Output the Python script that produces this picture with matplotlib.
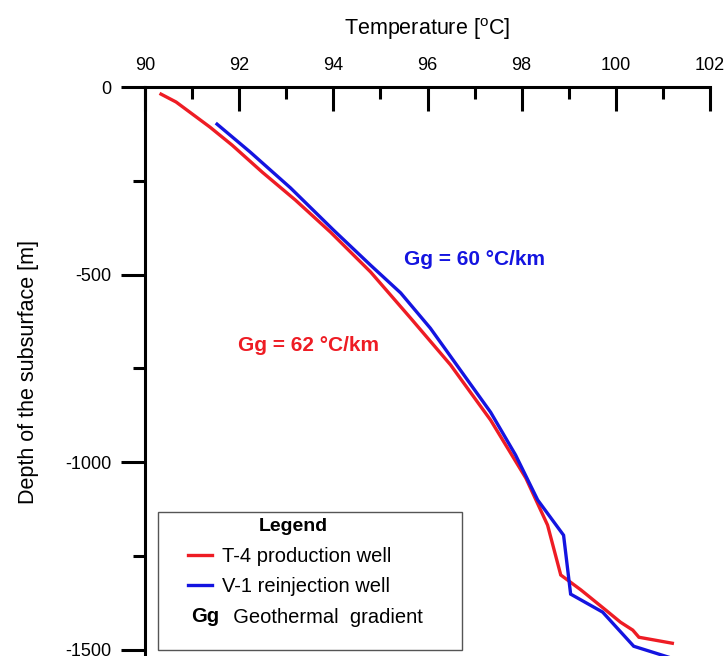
import matplotlib
matplotlib.use("Agg")
import matplotlib.pyplot as plt
from matplotlib.legend_handler import HandlerBase
from matplotlib.lines import Line2D
from matplotlib.patches import Rectangle
from matplotlib.text import Text
from matplotlib.ticker import MultipleLocator

# T-4 production well (temperature in degC, depth in m)
t4_temp = [90.34, 90.66, 91.38, 91.85, 92.49, 93.19, 93.94, 94.79, 95.64, 96.49,
           97.34, 98.09, 98.55, 98.83, 99.26, 99.79, 100.10, 100.36, 100.49, 101.20]
t4_depth = [-19, -40, -107, -155, -227, -301, -387, -493, -616, -741,
            -888, -1043, -1168, -1301, -1341, -1395, -1427, -1448, -1467, -1483]

# V-1 reinjection well
v1_temp = [91.53, 92.23, 93.09, 94.00, 94.79, 95.43, 96.06, 96.70, 97.34, 97.87,
           98.34, 98.89, 99.04, 99.72, 100.38, 101.32]
v1_depth = [-99, -173, -269, -381, -475, -549, -643, -755, -867, -981,
            -1101, -1195, -1352, -1400, -1491, -1528]

x_ticks = [90, 92, 94, 96, 98, 100, 102]
y_ticks = [0, -500, -1000, -1500]

RED = "#ee1c24"
BLUE = "#1414e0"

plt.rcParams["font.family"] = ["Liberation Sans", "DejaVu Sans"]
plt.rcParams["axes.unicode_minus"] = False


class TextHandle:
    def __init__(self, s):
        self.s = s


class ShortLineHandler(HandlerBase):
    # line only in the right half of the handle box
    def create_artists(self, legend, orig_handle, xdescent, ydescent,
                       width, height, fontsize, trans):
        x0 = -xdescent
        y = -ydescent + height / 2
        ln = Line2D([x0 + width * 0.5, x0 + width], [y, y],
                    color=orig_handle.get_color(),
                    lw=orig_handle.get_linewidth(), transform=trans)
        return [ln]


class TextHandler(HandlerBase):
    # bold "Gg" in place of a line
    def create_artists(self, legend, orig_handle, xdescent, ydescent,
                       width, height, fontsize, trans):
        t = Text(-xdescent + width * 0.85, -ydescent + height / 2, orig_handle.s,
                 ha="center", va="center", fontsize=fontsize,
                 fontweight="bold", transform=trans)
        return [t]


fig = plt.figure(figsize=(7.24, 6.56), dpi=100)
ax = fig.add_axes([145 / 724, 0, 565 / 724, 569 / 656])

l1, = ax.plot(t4_temp, t4_depth, color=RED, lw=2.4, solid_joinstyle="miter")
l2, = ax.plot(v1_temp, v1_depth, color=BLUE, lw=2.4, solid_joinstyle="miter")

ax.set_xlim(90, 102)
ax.set_ylim(-1517, 0)

ax.xaxis.tick_top()
ax.xaxis.set_label_position("top")
ax.set_xticks(x_ticks)
ax.set_yticks(y_ticks)
ax.xaxis.set_minor_locator(MultipleLocator(1))
ax.yaxis.set_minor_locator(MultipleLocator(250))

ax.tick_params(axis="x", which="major", direction="in", length=17, width=2.2,
               pad=9, labelsize=13)
ax.tick_params(axis="x", which="minor", direction="in", length=8.5, width=2.2)
ax.tick_params(axis="y", which="major", direction="out", length=17, width=2.2,
               pad=7, labelsize=13)
ax.tick_params(axis="y", which="minor", direction="out", length=8.5, width=2.2)

for side in ["right", "bottom"]:
    ax.spines[side].set_visible(False)
for side in ["top", "left"]:
    ax.spines[side].set_linewidth(2.2)

ax.set_xlabel(r"Temperature [$^{\mathregular{o}}$C]", fontsize=15.5, labelpad=16)
ax.set_ylabel("Depth of the subsurface [m]", fontsize=15.5, labelpad=19)

ax.text(95.5, -461, "Gg = 60 °C/km", color=BLUE, fontsize=15,
        fontweight="bold", va="center", ha="left")
ax.text(91.98, -688, "Gg = 62 °C/km", color=RED, fontsize=15,
        fontweight="bold", va="center", ha="left")

# legend frame
ax.add_patch(Rectangle((0.023, 0.0105), 0.538, 0.2425, transform=ax.transAxes,
                       facecolor="white", edgecolor="#555555", lw=1.0, zorder=4))

gg = TextHandle("Gg")
leg = ax.legend(handles=[l1, l2, gg],
                labels=["T-4 production well", "V-1 reinjection well",
                        "  Geothermal  gradient"],
                handler_map={Line2D: ShortLineHandler(), TextHandle: TextHandler()},
                loc="upper left", bbox_to_anchor=(0.023, 0.253),
                title="Legend", title_fontproperties={"weight": "bold", "size": 14},
                frameon=False, fontsize=14.5, handlelength=2.39, handletextpad=0.5,
                labelspacing=0.58, borderpad=0.3, borderaxespad=0)
leg.set_zorder(5)

fig.savefig("out.png", dpi=100)
